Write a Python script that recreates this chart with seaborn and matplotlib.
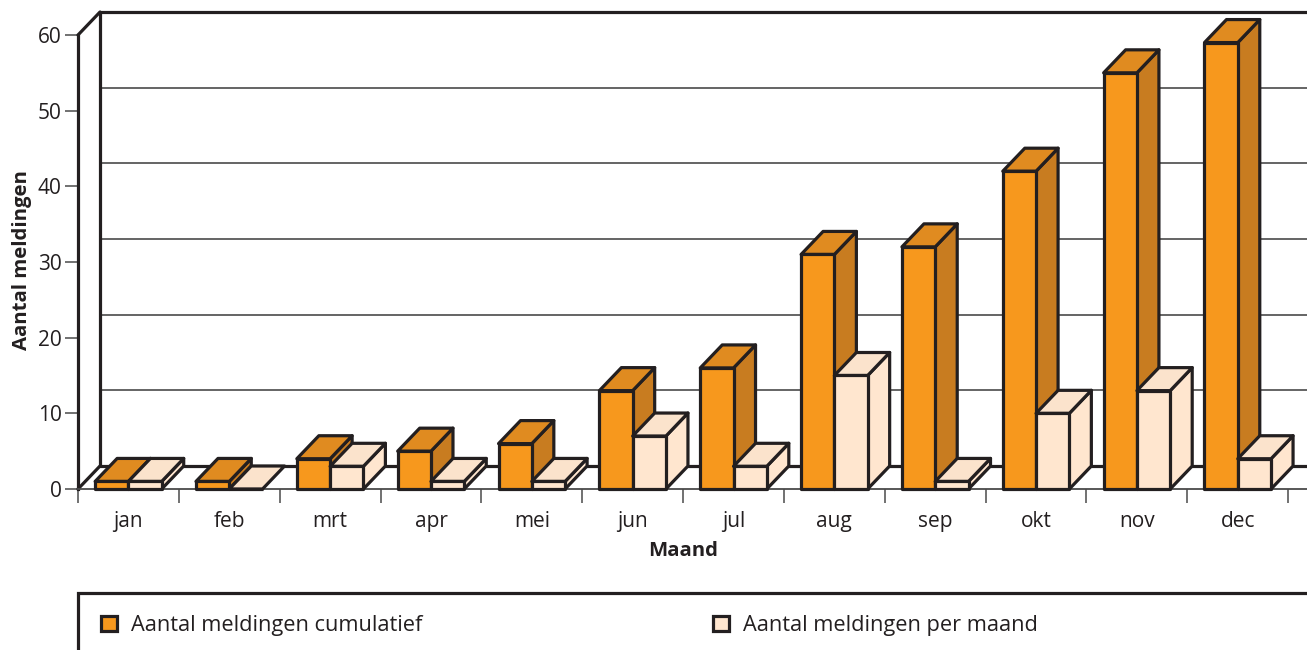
import matplotlib
matplotlib.use("Agg")
import matplotlib.pyplot as plt
from matplotlib.patches import Patch, Polygon, Rectangle
import pandas as pd
import seaborn as sns

months = ["jan", "feb", "mrt", "apr", "mei", "jun", "jul", "aug", "sep", "okt", "nov", "dec"]
cumulative = [1, 1, 4, 5, 6, 13, 16, 31, 32, 42, 55, 59]
per_month = [1, 0, 3, 1, 1, 7, 3, 15, 1, 10, 13, 4]
series_names = ["Aantal meldingen cumulatief", "Aantal meldingen per maand"]
y_ticks = [0, 10, 20, 30, 40, 50, 60]

INK = "#231F20"
GRID = "#4A4A4A"
FRONT = ["#F7981D", "#FFE6CF"]
TOP = ["#E08B20", "#FBE3CC"]
SIDE = ["#C87C20", "#FFE6CF"]

W, H = 1307, 650
LEFT, RIGHT, BASE, TOP_PX = 78, 1307, 489, 12
CAT_PX = 100.85
UNIT_PX = 7.567
DX = 22 / CAT_PX   # depth offset in category units
DY = 23 / UNIT_PX  # depth offset in value units
EDGE_LW = 2.3

sns.set_style("white")
plt.rcParams["font.family"] = ["Open Sans", "DejaVu Sans"]
FS = 15
FS_BOLD = 14.7
FS_LEGEND = 15.7

fig = plt.figure(figsize=(W / 100, H / 100), dpi=100)
ax = fig.add_axes([LEFT / W, 1 - BASE / H, (RIGHT - LEFT) / W, (BASE - TOP_PX) / H])

df = pd.DataFrame({
    "Maand": months * 2,
    "Aantal": cumulative + per_month,
    "Reeks": [series_names[0]] * 12 + [series_names[1]] * 12,
})
sns.barplot(data=df, x="Maand", y="Aantal", hue="Reeks", order=months,
            hue_order=series_names, palette=FRONT, width=0.66, gap=0,
            saturation=1, edgecolor=INK, linewidth=EDGE_LW, legend=False, ax=ax)

x_min, x_max = -0.5, -0.5 + (RIGHT - LEFT) / CAT_PX
ax.set_xlim(x_min, x_max)
ax.set_ylim(0, 60 + DY)

# Back wall, floor and left wall of the box
back_x = x_min + DX
ax.hlines([v + DY for v in y_ticks[1:-1]], back_x, x_max, color=GRID, lw=1.2, zorder=1)
wall_style = dict(color=INK, lw=EDGE_LW, zorder=2, clip_on=False, solid_capstyle="round")
ax.plot([back_x, x_max], [60 + DY, 60 + DY], **wall_style)
ax.plot([back_x, x_max], [DY, DY], **wall_style)
ax.plot([back_x, back_x], [DY, 60 + DY], **wall_style)
ax.plot([x_min, back_x], [60, 60 + DY], **wall_style)
ax.plot([x_min, back_x], [0, DY], **wall_style)

# Extrude each front face into a block, drawn left to right
n = len(months)
for s in range(2):
    for i in range(n):
        bar = ax.patches[s * n + i]
        x0, w, h = bar.get_x(), bar.get_width(), bar.get_height()
        z = 3 + (2 * i + s) * 3
        top = [(x0, h), (x0 + DX, h + DY), (x0 + w + DX, h + DY), (x0 + w, h)]
        side = [(x0 + w, 0), (x0 + w + DX, DY), (x0 + w + DX, h + DY), (x0 + w, h)]
        style = dict(ec=INK, lw=EDGE_LW, joinstyle="round", clip_on=False)
        if h > 0:
            ax.add_patch(Polygon(side, closed=True, fc=SIDE[s], zorder=z, **style))
        ax.add_patch(Polygon(top, closed=True, fc=TOP[s], zorder=z + 1, **style))
        bar.set_zorder(z + 2)
        bar.set_clip_on(False)
        bar.set_joinstyle("round")

# Axes furniture
sns.despine(ax=ax, top=True, right=True)
ax.spines["left"].set_bounds(0, 60)
ax.spines["left"].set_color(INK)
ax.spines["left"].set_linewidth(EDGE_LW)
ax.spines["bottom"].set_color(GRID)
ax.spines["bottom"].set_linewidth(1.3)
ax.set_yticks(y_ticks)
ax.tick_params(axis="y", length=9.4, width=1.1, color=GRID, pad=2.5,
               labelsize=FS, labelcolor=INK, left=True)
ax.set_xticks(range(n), months)
ax.set_xticks([k - 0.5 for k in range(n + 1)], minor=True)
ax.tick_params(axis="x", which="major", length=0, pad=15.8, labelsize=FS, labelcolor=INK)
ax.tick_params(axis="x", which="minor", length=10, width=1.1, color=GRID, bottom=True)
ax.set_xlabel("")
ax.set_ylabel("")
fig.text(683 / W, 1 - 550.5 / H, "Maand", fontsize=FS_BOLD, fontweight="bold",
         color=INK, ha="center", va="center")
fig.text(22 / W, 1 - 260 / H, "Aantal meldingen", fontsize=FS_BOLD, fontweight="bold",
         color=INK, rotation=90, ha="center", va="center")

# Legend panel running off the page edge
fig.add_artist(Rectangle((LEFT / W, -0.1), 1.1, 0.1 + 1 - 593 / H, transform=fig.transFigure,
                         fc="none", ec=INK, lw=EDGE_LW))
handles = [Patch(fc=FRONT[k], ec=INK, lw=EDGE_LW, label=series_names[k]) for k in range(2)]
fig.legend(handles=handles, ncol=2, loc="center left", frameon=False, fontsize=FS_LEGEND,
           bbox_to_anchor=(101 / W, 1 - 625.5 / H), borderpad=0, borderaxespad=0,
           handlelength=0.72, handleheight=0.72, handletextpad=0.66, columnspacing=13.32,
           labelcolor=INK)

fig.savefig("out.png", dpi=100)
